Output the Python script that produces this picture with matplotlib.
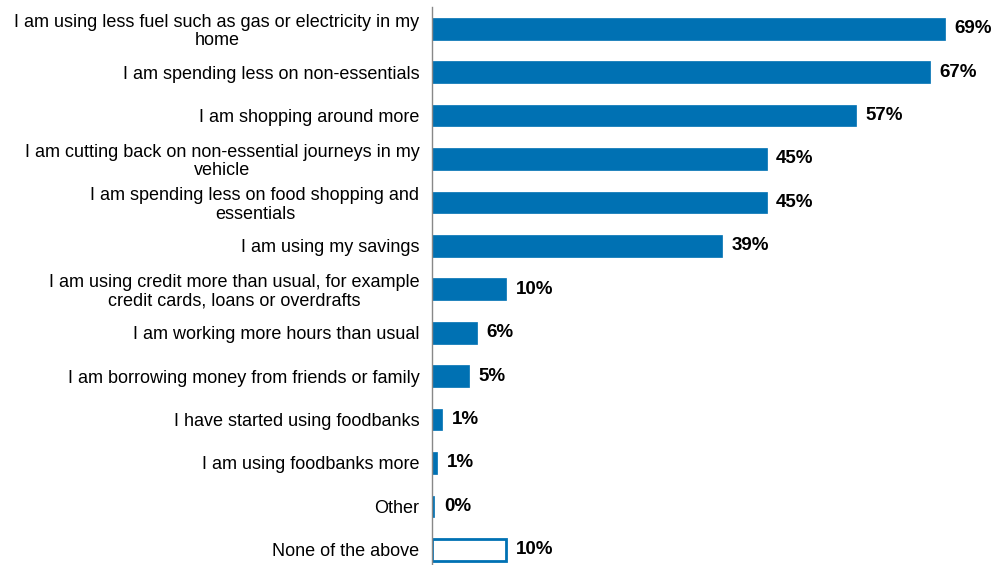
import matplotlib.pyplot as plt

plt.rcParams['font.family'] = ['Liberation Sans', 'DejaVu Sans']

labels = [
    "I am using less fuel such as gas or electricity in my\nhome",
    "I am spending less on non-essentials",
    "I am shopping around more",
    "I am cutting back on non-essential journeys in my\nvehicle",
    "I am spending less on food shopping and\nessentials",
    "I am using my savings",
    "I am using credit more than usual, for example\ncredit cards, loans or overdrafts",
    "I am working more hours than usual",
    "I am borrowing money from friends or family",
    "I have started using foodbanks",
    "I am using foodbanks more",
    "Other",
    "None of the above",
]
values = [69, 67, 57, 45, 45, 39, 10, 6, 5, 1.4, 0.7, 0.3, 10]

blue = '#0071B3'

fig = plt.figure(figsize=(9.94, 5.65), dpi=100)
ax = fig.add_axes([432 / 994, 0, 1 - 432 / 994, 1 - 7 / 565])

pos = list(range(len(values)))
for i, v in enumerate(values):
    if labels[i] == "None of the above":
        ax.barh(i, v, height=0.5, color='white', edgecolor=blue, linewidth=2)
    else:
        ax.barh(i, v, height=0.5, color=blue, edgecolor=blue, linewidth=0.5)
    ax.text(v + 1.3, i, f"{v:.0f}%", va='center', ha='left',
            fontsize=13.5, fontweight='bold', clip_on=False)

ax.set_yticks(pos)
ax.set_yticklabels(labels, fontsize=13, ha='right', multialignment='center',
                   linespacing=1.1)
ax.tick_params(axis='y', length=0, pad=9)
ax.set_xticks([])
ax.set_xlim(0, 75.6)
ax.set_ylim(12.35, -0.5)

for s in ['top', 'right', 'bottom']:
    ax.spines[s].set_visible(False)
ax.spines['left'].set_color('#888888')
ax.spines['left'].set_linewidth(1)

fig.savefig('out.png', dpi=100)
